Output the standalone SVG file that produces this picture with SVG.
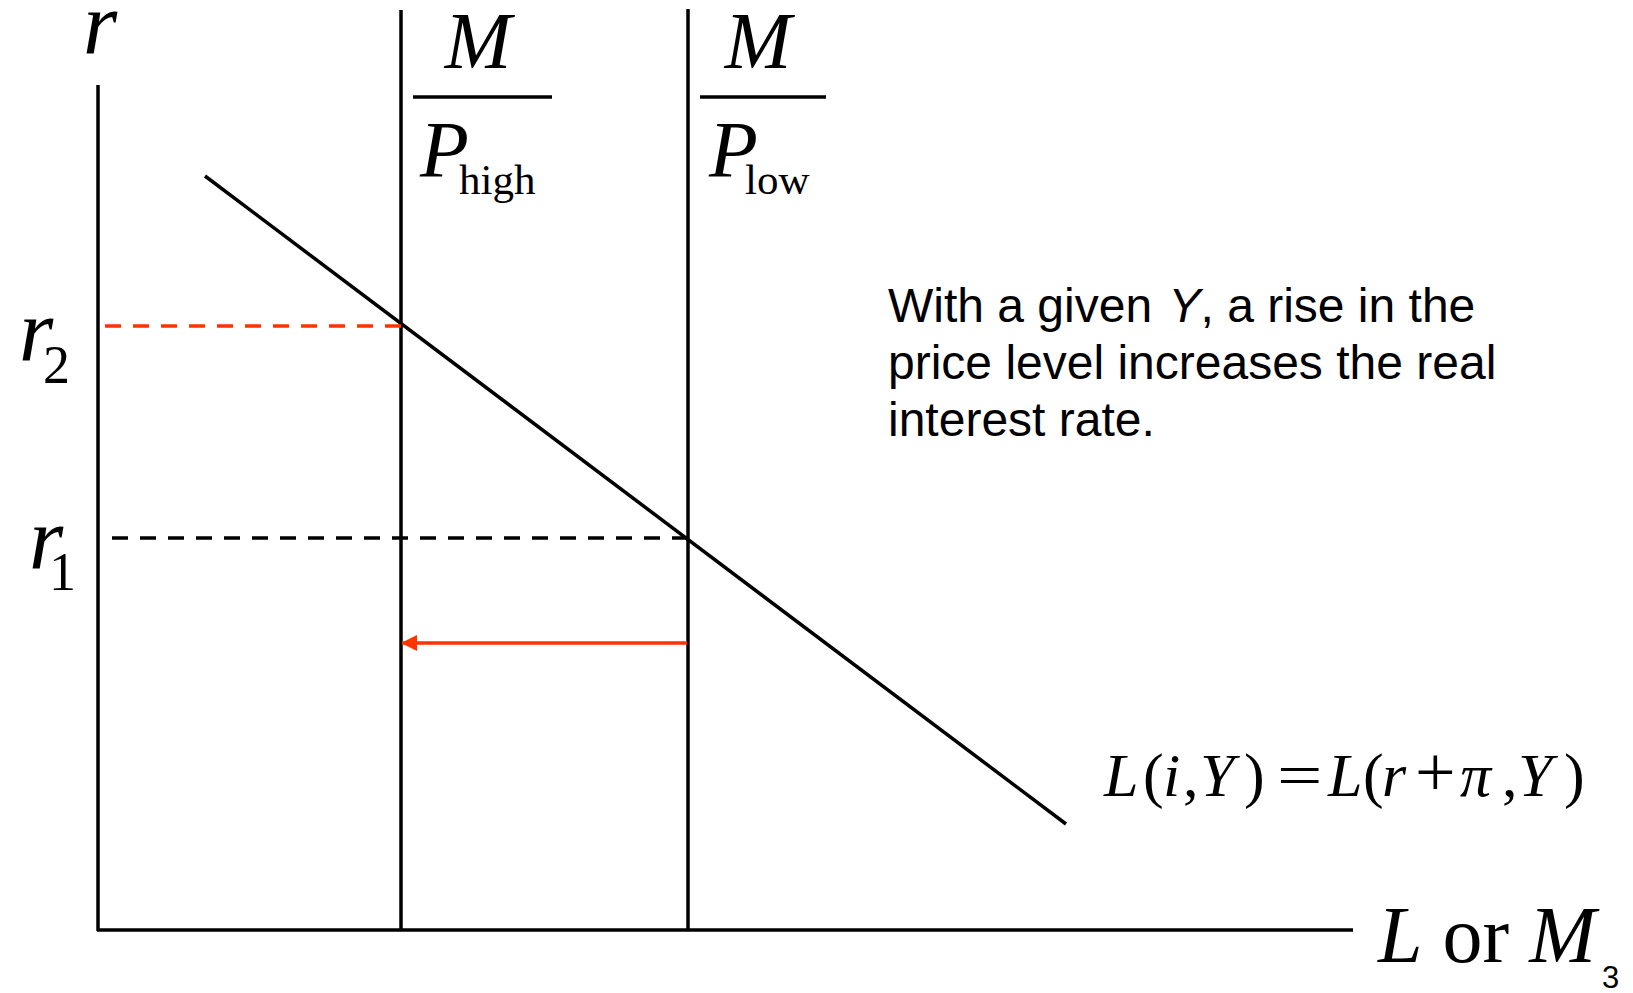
<svg xmlns="http://www.w3.org/2000/svg" width="1633" height="993" viewBox="0 0 1633 993">
<defs>
<style>
.ln{stroke:#000;stroke-width:3.5;fill:none}
.red{stroke:#FF3300;stroke-width:3.5;fill:none}
.dash{stroke-dasharray:16 12}
.tm{font-family:"Liberation Serif","Times New Roman",serif;fill:#000}
.it{font-style:italic}
.sans{font-family:"Liberation Sans",Arial,sans-serif;fill:#000}
</style>
<marker id="ah" markerWidth="16" markerHeight="16" refX="15" refY="8" orient="auto" markerUnits="userSpaceOnUse">
<path d="M0,0 L16,8 L0,16 Z" fill="#FF3300"/>
</marker>
</defs>
<rect width="1633" height="993" fill="#fff"/>
<g id="axes">
<line class="ln" x1="98" y1="85" x2="98" y2="931"/>
<line class="ln" x1="97" y1="930" x2="1353" y2="930"/>
<text class="tm it" x="83" y="53" font-size="88">r</text>
<text class="tm" x="1378" y="962" font-size="80"><tspan class="it">L</tspan> or <tspan class="it">M</tspan></text>
</g>
<g id="supply-high">
<line class="ln" x1="401" y1="10" x2="401" y2="930"/>
<text class="tm it" x="478" y="68" font-size="80" text-anchor="middle">M</text>
<line class="ln" x1="413" y1="97" x2="552" y2="97"/>
<text class="tm it" x="420" y="177" font-size="80">P</text>
<text class="tm" x="459" y="194" font-size="43">high</text>
</g>
<g id="supply-low">
<line class="ln" x1="688" y1="9" x2="688" y2="930"/>
<text class="tm it" x="758" y="68" font-size="80" text-anchor="middle">M</text>
<line class="ln" x1="700" y1="97" x2="826" y2="97"/>
<text class="tm it" x="709" y="177" font-size="80">P</text>
<text class="tm" x="745" y="194" font-size="43">low</text>
</g>
<g id="demand">
<line class="ln" x1="205" y1="176" x2="1066" y2="824"/>
<text class="tm" y="796" font-size="62"><tspan class="it" x="1104">L</tspan><tspan x="1143">(</tspan><tspan class="it" x="1163">i</tspan><tspan x="1183">,</tspan><tspan class="it" x="1200">Y</tspan><tspan x="1244">)</tspan><tspan class="it" x="1328">L</tspan><tspan x="1363">(</tspan><tspan class="it" x="1382">r</tspan><tspan x="1415" font-size="72">+</tspan><tspan class="it" x="1460">π</tspan><tspan x="1502">,</tspan><tspan class="it" x="1518">Y</tspan><tspan x="1564">)</tspan></text>
<text class="tm" font-size="62" transform="translate(1277,796) scale(1.3,1)">=</text>
</g>
<g id="r2-label">
<text class="tm it" x="19" y="360" font-size="88">r</text>
<text class="tm" x="43" y="383" font-size="54">2</text>
</g>
<g id="r1-label">
<text class="tm it" x="29" y="568" font-size="88">r</text>
<text class="tm" x="49" y="590" font-size="54">1</text>
</g>
<g id="note">
<text class="sans" font-size="48"><tspan x="888" y="322">With a given <tspan class="it" dx="3">Y</tspan>, a rise in the</tspan><tspan x="888" y="379">price level increases the real</tspan><tspan x="888" y="436">interest rate.</tspan></text>
</g>
<g id="connectors">
<line class="red dash" x1="105" y1="326" x2="401" y2="326"/>
<line class="ln dash" x1="112" y1="538" x2="688" y2="538"/>
<line class="red" x1="687" y1="643" x2="402" y2="643" marker-end="url(#ah)"/>
</g>
<text class="sans" x="1602" y="988" font-size="31">3</text>
</svg>
